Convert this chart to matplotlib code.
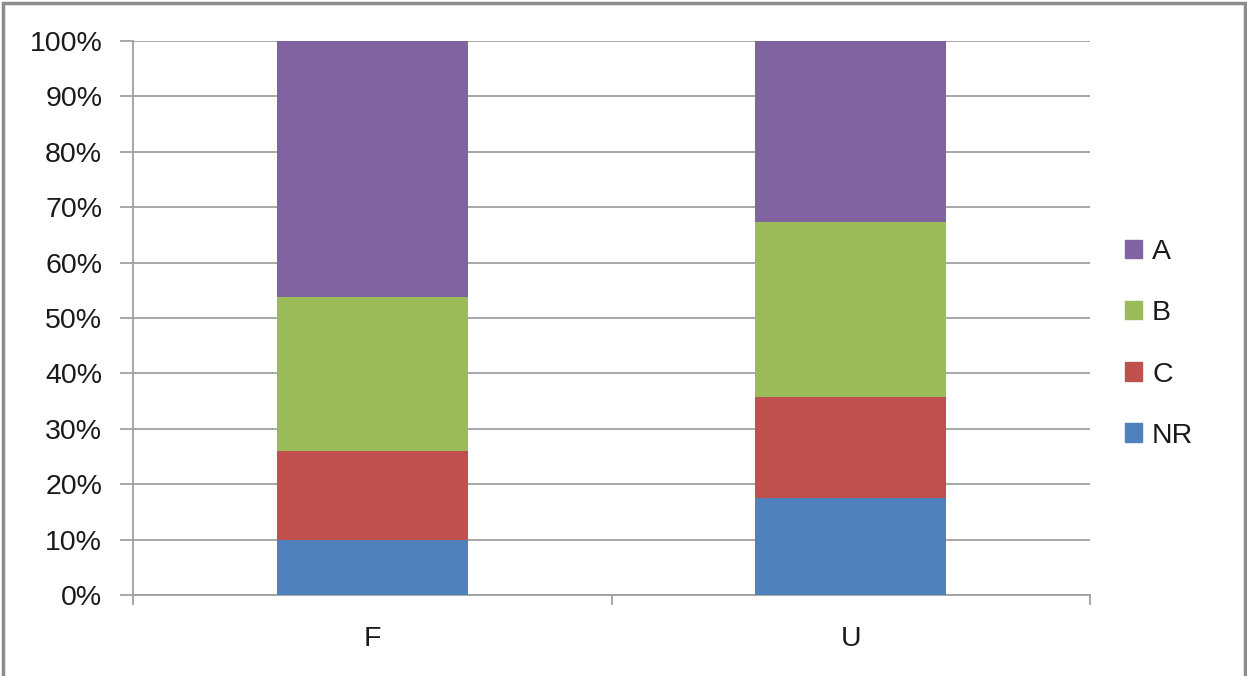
import matplotlib.pyplot as plt
from matplotlib.patches import Rectangle, Patch
from matplotlib.ticker import PercentFormatter

# 100% stacked shares per group
groups = ["F", "U"]
series = ["NR", "C", "B", "A"]
nr = [9.9, 17.5]
c = [16.1, 18.2]
b = [27.8, 31.6]
a = [46.2, 32.7]
colors = ["#4f81bd", "#c0504d", "#9bbb59", "#8064a2"]

plt.rcParams['font.family'] = ['Liberation Sans', 'DejaVu Sans']
fs = 20.5

fig = plt.figure(figsize=(12.47, 6.76), dpi=100)
ax = fig.add_axes([133 / 1247, 1 - 595 / 676, 957 / 1247, 554 / 676])

x = range(len(groups))
bottom = [0, 0]
for name, vals, col in zip(series, [nr, c, b, a], colors):
    ax.bar(x, vals, width=0.4, bottom=bottom, color=col, label=name, zorder=3)
    bottom = [p + q for p, q in zip(bottom, vals)]

ax.set_xlim(-0.5, 1.5)
ax.set_ylim(0, 100)
ax.set_yticks(range(0, 101, 10))
ax.yaxis.set_major_formatter(PercentFormatter(decimals=0))
ax.grid(axis="y", color="#a0a0a0", linewidth=1.3, zorder=0)

# category labels in the middle, separator ticks at the edges
ax.set_xticks([-0.5, 0.5, 1.5])
ax.set_xticklabels([])
ax.set_xticks(list(x), minor=True)
ax.set_xticklabels(groups, minor=True)
ax.tick_params(axis="x", which="major", length=7.5, width=1.3, color="#a0a0a0", direction="out")
ax.tick_params(axis="x", which="minor", length=0, pad=22, labelsize=fs, labelcolor="#1a1a1a")
ax.tick_params(axis="y", length=9.2, width=1.3, color="#a0a0a0", labelsize=fs, pad=13,
               labelcolor="#1a1a1a")

for s in ["top", "right"]:
    ax.spines[s].set_visible(False)
for s in ["left", "bottom"]:
    ax.spines[s].set_color("#a0a0a0")
    ax.spines[s].set_linewidth(1.3)

handles = [Patch(color=col, label=n) for n, col in zip(series, colors)][::-1]
leg = fig.legend(handles=handles, loc="center left", bbox_to_anchor=(1125 / 1247, 1 - 344 / 676),
                 frameon=False, fontsize=fs, handlelength=0.6, handleheight=0.6,
                 handletextpad=0.35, labelspacing=1.23, borderpad=0, borderaxespad=0)
for t in leg.get_texts():
    t.set_color("#1a1a1a")

# outer chart frame (open at the bottom edge of the picture)
fig.add_artist(Rectangle((3 / 1247, -0.02), 1242 / 1247, 1.02 - 3 / 676, transform=fig.transFigure,
                         fill=False, edgecolor="#8c8c8c", linewidth=2.5, clip_on=False))

fig.savefig("out.png", dpi=100)
